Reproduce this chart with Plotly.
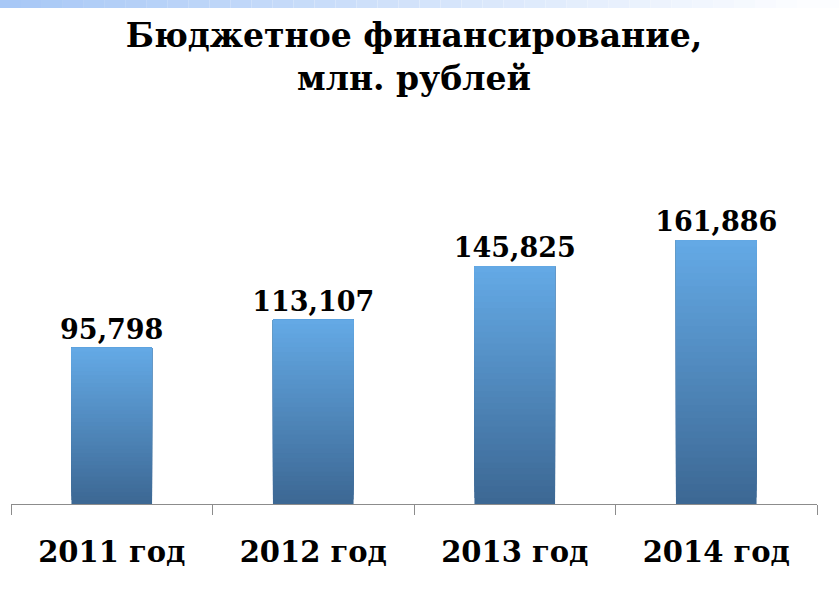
import plotly.graph_objects as go

categories = ["2011 год", "2012 год", "2013 год", "2014 год"]
values = [95.798, 113.107, 145.825, 161.886]
title_text = "Бюджетное финансирование,<br>млн. рублей"

W, H = 839, 600
ML, MR, MT, MB = 11, 22, 100, 96
plot_h = H - MT - MB
plot_w = W - ML - MR
px_per_unit = 1.63
y_max = plot_h / px_per_unit

top_col = (100, 170, 230)
bot_col = (60, 103, 147)

def lerp(a, b, t):
    return tuple(round(a[i] + (b[i] - a[i]) * t) for i in range(3))

fig = go.Figure()

N = 40
for k in range(N):
    t = (k + 0.5) / N
    c = lerp(bot_col, top_col, t)
    fig.add_trace(go.Bar(
        x=categories,
        y=[v * (N - k) / N for v in values],
        base=[v * k / N for v in values],
        width=0.4,
        marker=dict(color="rgb(%d,%d,%d)" % c, line=dict(width=0)),
        hoverinfo="skip",
        showlegend=False,
    ))

fig.add_trace(go.Bar(
    x=categories,
    y=values,
    width=0.4,
    marker=dict(color="rgba(0,0,0,0)", line=dict(width=0)),
    texttemplate="%{y:.3f}",
    textposition="outside",
    constraintext="none",
    textfont=dict(family="DejaVu Serif", size=27, color="black", weight="bold"),
    cliponaxis=False,
    hoverinfo="skip",
    showlegend=False,
))

# decorative top gradient strip
shapes = []
S = 40
for k in range(S):
    x0 = (k * W / S - ML) / plot_w
    x1 = ((k + 1) * W / S - ML) / plot_w
    c = lerp((168, 200, 246), (252, 253, 255), min(1, k / (S * 0.95)))
    shapes.append(dict(type="rect", xref="paper", yref="paper",
                       x0=x0, x1=x1,
                       y0=(plot_h + MT - 8) / plot_h,
                       y1=(plot_h + MT) / plot_h,
                       fillcolor="rgb(%d,%d,%d)" % c, line=dict(width=0), layer="below"))

fig.update_layout(
    width=W, height=H,
    margin=dict(l=ML, r=MR, t=MT, b=MB),
    paper_bgcolor="white", plot_bgcolor="white",
    barmode="overlay",
    separators=", ",
    shapes=shapes,
    title=dict(text=title_text, x=0.5, xref="paper", xanchor="center",
               y=1 - 47 / H, yanchor="middle",
               font=dict(family="DejaVu Serif", size=33, color="black", weight="bold")),
    xaxis=dict(
        showline=True, linecolor="#8c8c8c", linewidth=1,
        ticks="outside", tickson="boundaries", ticklen=10, tickcolor="#8c8c8c",
        tickfont=dict(family="DejaVu Serif", size=29, color="black", weight="bold"),
        ticklabelstandoff=22,
        showgrid=False,
    ),
    yaxis=dict(range=[0, y_max], visible=False, showgrid=False, zeroline=False),
)

fig.write_html("out.html", config={"displayModeBar": False},
               post_script="document.body.style.margin='0';")
